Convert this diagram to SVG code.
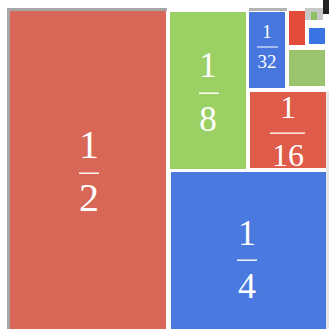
<svg xmlns="http://www.w3.org/2000/svg" width="329" height="329" viewBox="0 0 329 329">
<style>
.t{font-family:"Liberation Serif","DejaVu Serif",serif;fill:#fff;text-anchor:middle}
.bar{fill:#fff}
</style>
<rect width="329" height="329" fill="#fff"/>
<g id="frame">
<rect x="7" y="8" width="160" height="3" fill="#a6a6a6"/>
<rect x="7" y="8" width="3" height="321" fill="#a6a6a6"/>
<rect x="249" y="8" width="38" height="3" fill="#b4b4b4"/>
<rect x="305" y="8" width="18" height="12" fill="#c8c8c8"/>
<rect x="323" y="0" width="6" height="14" fill="#222"/>
<rect x="326" y="92" width="3" height="237" fill="#e6e6e6"/>
</g>
<g id="half">
<rect x="10" y="11" width="156" height="318" fill="#d96757"/>
<text class="t" x="89" y="158" font-size="40">1</text>
<rect class="bar" x="79" y="172.5" width="20" height="1.4"/>
<text class="t" x="89" y="211" font-size="40">2</text>
</g>
<g id="quarter">
<rect x="171" y="172" width="155" height="157" fill="#4a79e0"/>
<text class="t" x="247" y="245" font-size="36">1</text>
<rect class="bar" x="237" y="259.5" width="20" height="1.4"/>
<text class="t" x="247" y="298" font-size="36">4</text>
</g>
<g id="eighth">
<rect x="170" y="12" width="76" height="157" fill="#9bd064"/>
<text class="t" x="208" y="77" font-size="35">1</text>
<rect class="bar" x="199" y="92.5" width="20" height="1.4"/>
<text class="t" x="208" y="131" font-size="35">8</text>
</g>
<g id="sixteenth">
<rect x="250" y="92" width="76" height="76" fill="#e05c4a"/>
<text class="t" x="288" y="118" font-size="32">1</text>
<rect class="bar" x="270" y="132.5" width="35" height="1.3"/>
<text class="t" x="288" y="166" font-size="32">16</text>
</g>
<g id="thirtysecond">
<rect x="249" y="12" width="36" height="76" fill="#4676de"/>
<text class="t" x="267" y="38" font-size="19">1</text>
<rect class="bar" x="257" y="46.5" width="21" height="1"/>
<text class="t" x="267" y="68" font-size="19">32</text>
</g>
<g id="sixtyfourth">
<rect x="289" y="50" width="36" height="36" fill="#9cc46e"/>
</g>
<g id="onetwentyeighth">
<rect x="289" y="11" width="16" height="34" fill="#e24a3a"/>
</g>
<g id="twofiftysixth">
<rect x="309" y="28" width="16" height="16" fill="#3a74e2"/>
</g>
<g id="fivetwelfth">
<rect x="311" y="12" width="6" height="8" fill="#8cc060"/>
</g>
</svg>
